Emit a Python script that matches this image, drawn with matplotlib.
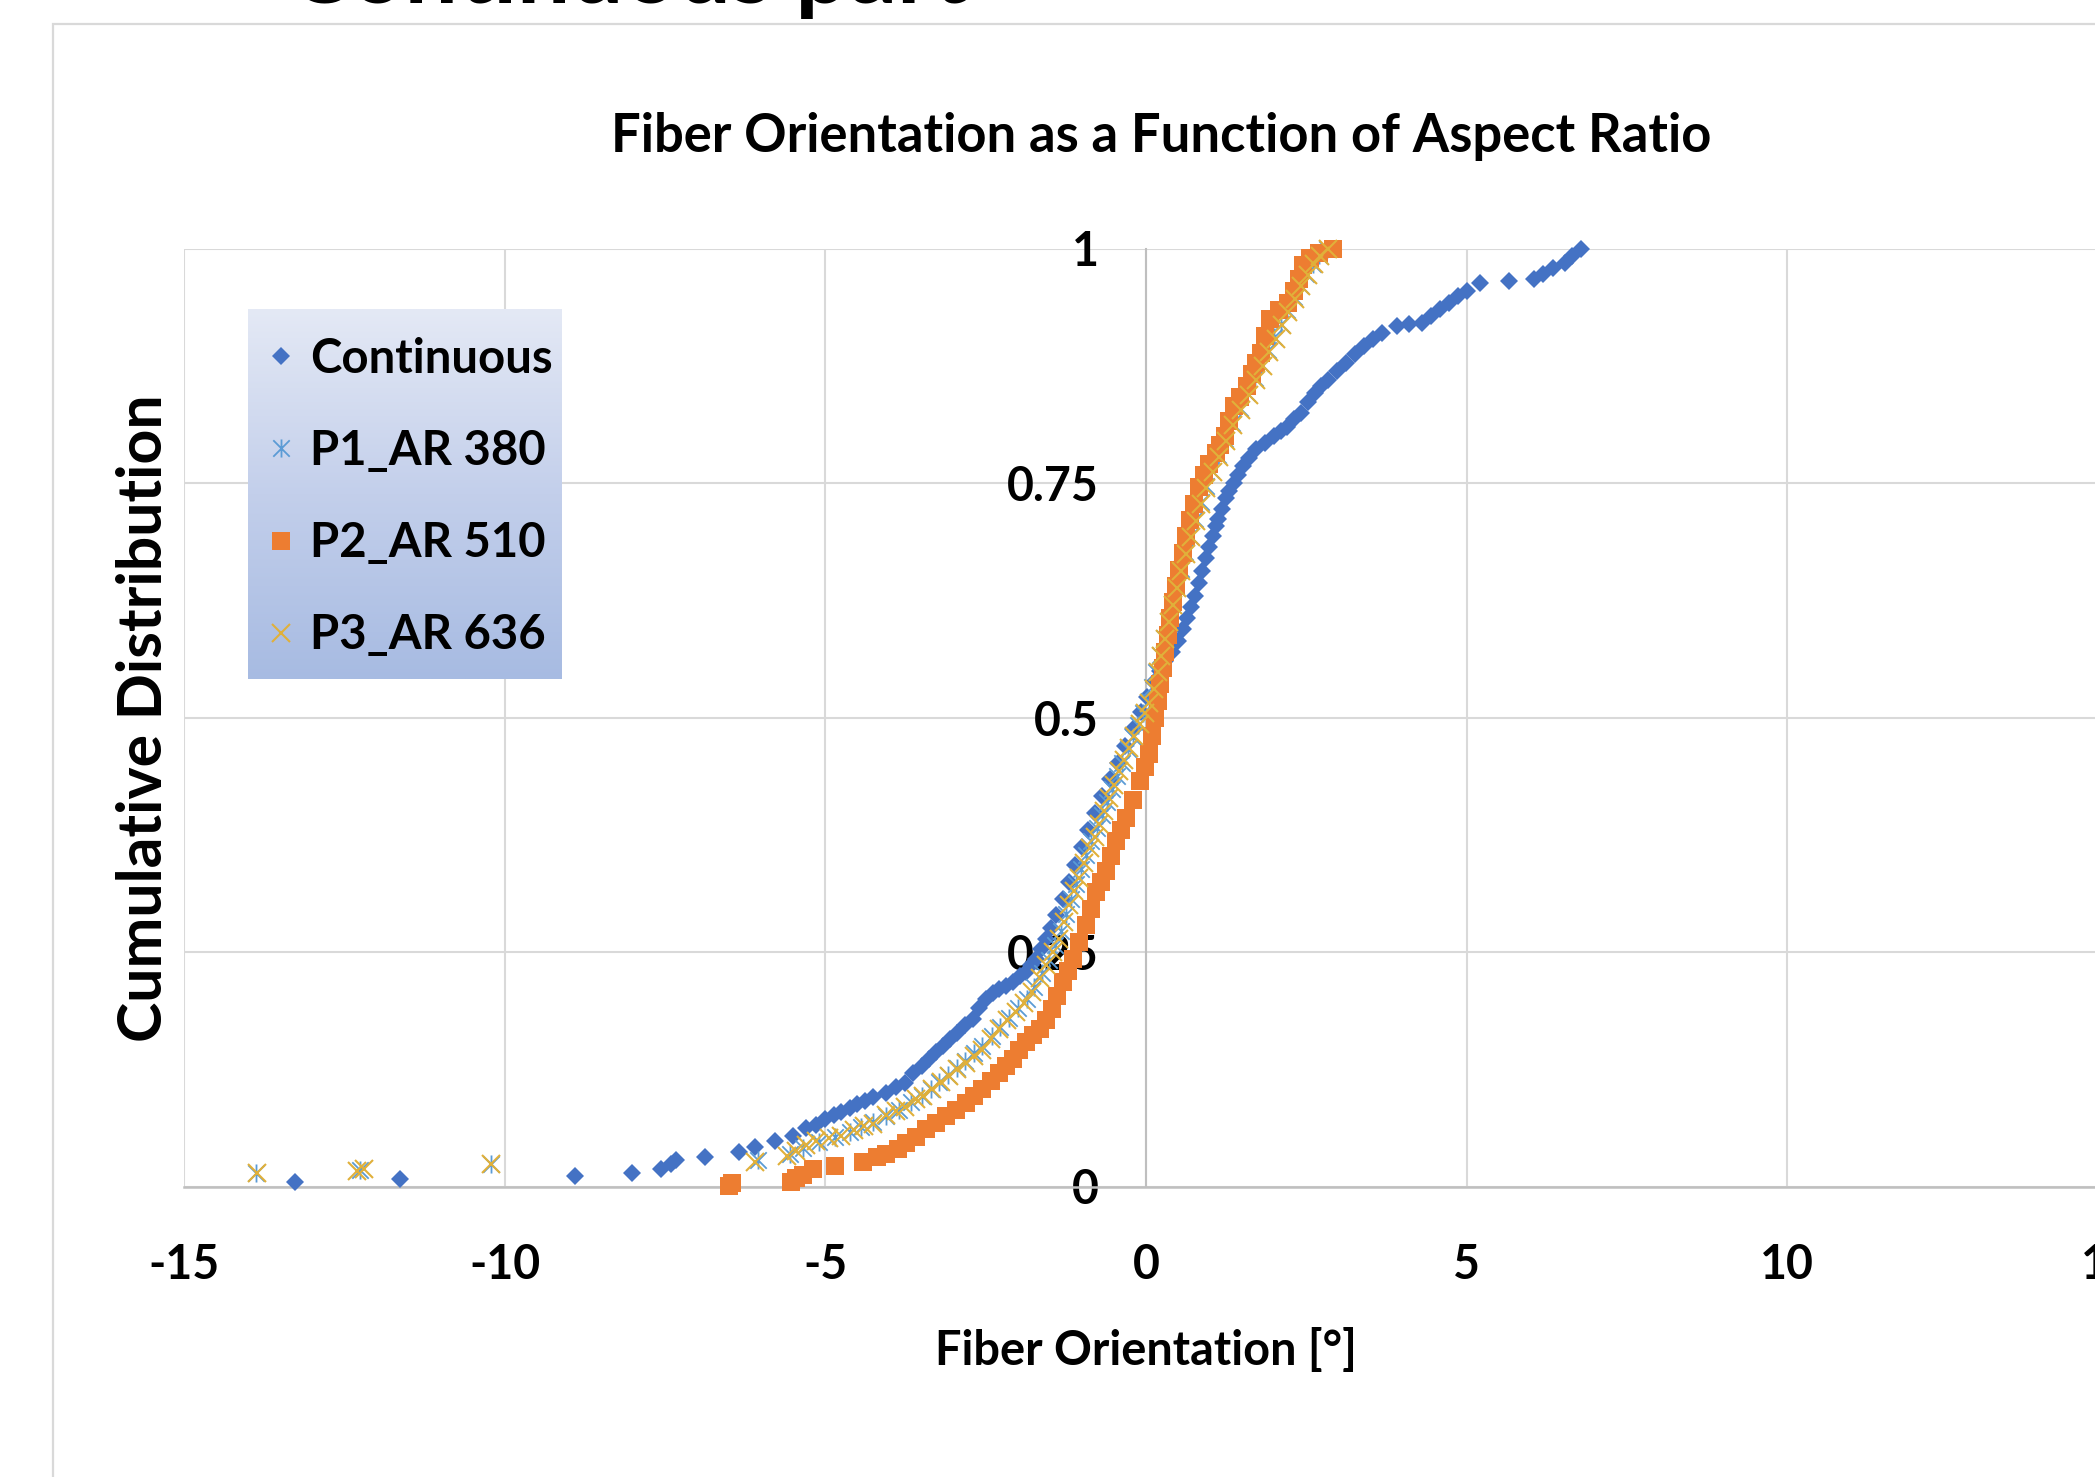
import matplotlib
matplotlib.use('Agg')
import matplotlib.pyplot as plt
import numpy as np
from matplotlib.path import Path
from matplotlib.patches import Rectangle
from matplotlib.colors import LinearSegmentedColormap

W, H, DPI = 2095, 1477, 100
plt.rcParams['font.family'] = ['Lato', 'DejaVu Sans']
plt.rcParams['font.weight'] = 'bold'
plt.rcParams['axes.unicode_minus'] = False

# ---------------- data ----------------
title = "Fiber Orientation as a Function of Aspect Ratio"
xlabel = "Fiber Orientation [°]"
ylabel = "Cumulative Distribution"
slide_title = "Continuous part"
series_names = ["Continuous", "P1_AR 380", "P2_AR 510", "P3_AR 636"]
xticks = [-15, -10, -5, 0, 5, 10, 15]
xtick_labels = ["-15", "-10", "-5", "0", "5", "10", "15"]
yticks = [0, 0.25, 0.5, 0.75, 1]
ytick_labels = ["0", "0.25", "0.5", "0.75", "1"]

cont_x = [-13.27, -11.63, -8.91, -8.02, -7.57, -7.40, -7.33, -6.88, -6.34, -6.09, -5.79, -5.50,
          -5.30, -5.15, -5.00, -4.87, -4.75, -4.62, -4.50, -4.38, -4.26, -4.06, -3.90, -3.76,
          -3.64, -3.50, -3.38, -3.28, -3.17, -3.05, -2.94, -2.82, -2.70, -2.60, -2.49, -2.39,
          -2.29, -2.18, -2.08, -1.97, -1.87, -1.80, -1.72, -1.64, -1.56, -1.48, -1.40, -1.30,
          -1.20, -1.10, -1.00, -0.90, -0.80, -0.68, -0.56, -0.44, -0.32, -0.20, -0.08, 0.02,
          0.12, 0.22, 0.30, 0.40, 0.50, 0.58, 0.64, 0.70, 0.76, 0.82, 0.88, 0.94,
          0.99, 1.04, 1.09, 1.13, 1.18, 1.24, 1.30, 1.37, 1.44, 1.51, 1.61, 1.72,
          1.86, 2.00, 2.10, 2.20, 2.31, 2.42, 2.52, 2.63, 2.73, 2.84, 2.98, 3.12,
          3.26, 3.40, 3.54, 3.68, 3.92, 4.10, 4.30, 4.44, 4.58, 4.72, 4.86, 5.00,
          5.21, 5.66, 6.05, 6.19, 6.35, 6.53, 6.65, 6.78]
cont_y = [0.005, 0.008, 0.011, 0.014, 0.019, 0.024, 0.028, 0.031, 0.037, 0.042, 0.049, 0.054,
          0.062, 0.066, 0.072, 0.076, 0.079, 0.084, 0.088, 0.091, 0.095, 0.100, 0.106, 0.110,
          0.121, 0.128, 0.136, 0.143, 0.150, 0.157, 0.164, 0.172, 0.179, 0.190, 0.200, 0.206,
          0.211, 0.214, 0.218, 0.224, 0.229, 0.236, 0.243, 0.253, 0.264, 0.276, 0.289, 0.307,
          0.325, 0.343, 0.362, 0.380, 0.398, 0.416, 0.434, 0.452, 0.470, 0.488, 0.506, 0.522,
          0.538, 0.550, 0.560, 0.570, 0.582, 0.594, 0.606, 0.618, 0.630, 0.643, 0.656, 0.670,
          0.682, 0.694, 0.704, 0.712, 0.722, 0.734, 0.742, 0.750, 0.759, 0.768, 0.777, 0.786,
          0.793, 0.800, 0.805, 0.810, 0.818, 0.825, 0.836, 0.846, 0.853, 0.860, 0.869, 0.878,
          0.887, 0.896, 0.903, 0.910, 0.917, 0.919, 0.921, 0.928, 0.935, 0.942, 0.949, 0.955,
          0.963, 0.965, 0.967, 0.973, 0.979, 0.985, 0.992, 1.000]

p1_x = [-13.88, -12.26, -10.22, -6.05, -5.55, -5.35, -5.10, -4.85, -4.62, -4.45, -4.25, -4.05,
        -3.85, -3.66, -3.50, -3.36, -3.22, -3.08, -2.95, -2.82, -2.68, -2.55, -2.40, -2.27,
        -2.13, -2.00, -1.86, -1.74, -1.62, -1.52, -1.42, -1.33, -1.25, -1.17, -1.09, -1.01,
        -0.93, -0.85, -0.77, -0.69, -0.61, -0.53, -0.45, -0.37, -0.28, -0.20, -0.12, -0.04,
        0.04, 0.10, 0.16, 0.22, 0.28, 0.34, 0.40, 0.47, 0.54, 0.61, 0.69, 0.77,
        0.85, 0.93, 1.02, 1.12, 1.23, 1.34, 1.46, 1.58, 1.70, 1.80, 1.90, 2.00,
        2.10, 2.20, 2.30, 2.40, 2.50, 2.60, 2.70, 2.82]
p1_y = [0.014, 0.018, 0.024, 0.028, 0.035, 0.041, 0.047, 0.053, 0.058, 0.063, 0.069, 0.075,
        0.082, 0.090, 0.097, 0.104, 0.111, 0.119, 0.126, 0.134, 0.142, 0.150, 0.160, 0.170,
        0.180, 0.190, 0.200, 0.213, 0.228, 0.242, 0.257, 0.272, 0.290, 0.306, 0.322, 0.338,
        0.353, 0.368, 0.382, 0.396, 0.410, 0.424, 0.438, 0.452, 0.466, 0.479, 0.492, 0.505,
        0.518, 0.532, 0.549, 0.567, 0.585, 0.603, 0.621, 0.640, 0.658, 0.676, 0.694, 0.712,
        0.730, 0.747, 0.764, 0.780, 0.797, 0.814, 0.830, 0.846, 0.862, 0.877, 0.892, 0.906,
        0.920, 0.934, 0.948, 0.961, 0.973, 0.984, 0.993, 1.000]

p2_x = [-6.50, -6.45, -5.54, -5.45, -5.35, -5.20, -4.85, -4.41, -4.20, -4.06, -3.86, -3.74,
        -3.58, -3.43, -3.28, -3.12, -2.96, -2.81, -2.68, -2.55, -2.42, -2.29, -2.18, -2.08,
        -1.98, -1.87, -1.76, -1.66, -1.56, -1.46, -1.38, -1.30, -1.22, -1.14, -1.04, -0.94,
        -0.86, -0.78, -0.70, -0.62, -0.55, -0.47, -0.39, -0.31, -0.20, -0.10, -0.02, 0.05,
        0.10, 0.14, 0.18, 0.22, 0.26, 0.30, 0.34, 0.38, 0.42, 0.46, 0.52, 0.58,
        0.63, 0.68, 0.75, 0.82, 0.90, 0.98, 1.09, 1.16, 1.23, 1.30, 1.37, 1.47,
        1.58, 1.65, 1.72, 1.79, 1.86, 1.93, 2.07, 2.21, 2.30, 2.38, 2.45, 2.55,
        2.70, 2.91]
p2_y = [0.001, 0.004, 0.005, 0.009, 0.012, 0.019, 0.022, 0.026, 0.031, 0.035, 0.040, 0.046,
        0.053, 0.061, 0.068, 0.075, 0.082, 0.089, 0.096, 0.104, 0.112, 0.121, 0.128, 0.136,
        0.145, 0.154, 0.161, 0.168, 0.178, 0.189, 0.203, 0.218, 0.230, 0.243, 0.261, 0.279,
        0.296, 0.314, 0.325, 0.336, 0.352, 0.368, 0.380, 0.393, 0.412, 0.432, 0.447, 0.461,
        0.480, 0.500, 0.518, 0.536, 0.553, 0.570, 0.588, 0.606, 0.623, 0.640, 0.657, 0.675,
        0.693, 0.711, 0.728, 0.746, 0.758, 0.770, 0.782, 0.791, 0.800, 0.816, 0.832, 0.842,
        0.853, 0.866, 0.878, 0.889, 0.907, 0.925, 0.934, 0.942, 0.955, 0.968, 0.982, 0.990,
        0.995, 1.000]

p3_x = [-13.86, -12.30, -12.20, -10.22, -6.09, -5.60, -5.45, -5.30, -5.15, -4.95, -4.75, -4.55,
        -4.40, -4.26, -4.06, -3.90, -3.76, -3.59, -3.47, -3.33, -3.20, -3.07, -2.94, -2.81,
        -2.68, -2.55, -2.42, -2.29, -2.16, -2.03, -1.90, -1.77, -1.66, -1.56, -1.45, -1.35,
        -1.28, -1.20, -1.12, -1.04, -0.96, -0.88, -0.80, -0.73, -0.65, -0.57, -0.50, -0.42,
        -0.34, -0.26, -0.18, -0.10, -0.02, 0.05, 0.12, 0.18, 0.24, 0.30, 0.36, 0.42,
        0.48, 0.55, 0.62, 0.70, 0.78, 0.86, 0.94, 1.04, 1.14, 1.25, 1.36, 1.48,
        1.60, 1.72, 1.82, 1.92, 2.02, 2.12, 2.22, 2.32, 2.42, 2.52, 2.62, 2.72, 2.84]
p3_y = [0.014, 0.017, 0.019, 0.024, 0.026, 0.033, 0.038, 0.044, 0.049, 0.052, 0.054, 0.060,
        0.064, 0.067, 0.076, 0.080, 0.085, 0.093, 0.097, 0.104, 0.111, 0.118, 0.125, 0.132,
        0.139, 0.146, 0.157, 0.168, 0.177, 0.186, 0.196, 0.207, 0.222, 0.236, 0.250, 0.264,
        0.282, 0.300, 0.315, 0.329, 0.345, 0.361, 0.373, 0.386, 0.400, 0.414, 0.428, 0.443,
        0.455, 0.468, 0.480, 0.493, 0.505, 0.515, 0.530, 0.548, 0.566, 0.584, 0.602, 0.620,
        0.638, 0.656, 0.674, 0.692, 0.710, 0.728, 0.745, 0.762, 0.778, 0.795, 0.812, 0.828,
        0.844, 0.860, 0.875, 0.890, 0.904, 0.918, 0.932, 0.946, 0.960, 0.972, 0.983, 0.992, 1.000]

colors = ["#4472C4", "#5B9BD5", "#ED7D31", "#E0B03A"]

# ---------------- figure ----------------
fig = plt.figure(figsize=(W / DPI, H / DPI), dpi=DPI)
fig.patch.set_facecolor("white")

# chart-area frame (extends beyond the crop)
fig.patches.append(Rectangle((53 / W, -0.1), 1.2, 1 - 24 / H + 0.1, transform=fig.transFigure,
                             fill=False, edgecolor="#d9d9d9", linewidth=1.6, zorder=0))

# slide title, mostly cut off at the top
st = fig.text(628 / W, 1 - 3 / H, slide_title, ha="center", va="baseline",
              fontsize=60, fontweight="bold", color="black")

ax = fig.add_axes([184 / W, 1 - 1186.5 / H, 1924 / W, 938 / H])
ax.set_xlim(-15, 15)
ax.set_ylim(0, 1)
ax.set_facecolor("none")

star = Path([(-0.5, -0.5), (0.5, 0.5), (-0.5, 0.5), (0.5, -0.5), (0, -0.55), (0, 0.55)],
            [Path.MOVETO, Path.LINETO] * 3)

h0, = ax.plot(cont_x, cont_y, ls="none", marker="D", ms=9.4, mfc=colors[0], mec=colors[0],
              mew=0, clip_on=False, zorder=3, label=series_names[0])
h1, = ax.plot(p1_x, p1_y, ls="none", marker=star, ms=13, mfc="none", mec=colors[1],
              mew=1.3, clip_on=False, zorder=4, label=series_names[1])
h2, = ax.plot(p2_x, p2_y, ls="none", marker="s", ms=12.5, mfc=colors[2], mec=colors[2],
              mew=0, clip_on=False, zorder=5, label=series_names[2])
h3, = ax.plot(p3_x, p3_y, ls="none", marker="x", ms=13, mec=colors[3],
              mew=1.5, clip_on=False, zorder=6, label=series_names[3])

ax.set_xticks(xticks)
ax.set_xticklabels(xtick_labels)
ax.set_yticks(yticks)
ax.set_yticklabels(ytick_labels)
ax.grid(True, color="#d9d9d9", linewidth=1.5, zorder=0)
ax.set_axisbelow(True)
for s in ["top", "right"]:
    ax.spines[s].set_visible(False)
ax.spines["left"].set_position(("data", 0))
ax.spines["left"].set_color("#bfbfbf")
ax.spines["left"].set_linewidth(1.5)
ax.spines["bottom"].set_color("#bfbfbf")
ax.spines["bottom"].set_linewidth(1.8)
ax.tick_params(axis="both", length=0, labelsize=33.5, colors="black")
ax.tick_params(axis="x", pad=41)
ax.tick_params(axis="y", pad=34)
for lbl in ax.get_xticklabels() + ax.get_yticklabels():
    lbl.set_fontweight("bold")

ax.set_title(title, x=(1161 - 184) / 1924, y=(1186.5 - 145) / 938, va="center",
             fontsize=32, fontweight="bold")
ax.set_xlabel(xlabel, fontsize=32, fontweight="bold", va="center")
ax.xaxis.set_label_coords((1146 - 184) / 1924, (1186.5 - 1351) / 938)
ax.set_ylabel(ylabel, fontsize=40, fontweight="bold", va="center")
ax.yaxis.set_label_coords((144 - 184) / 1924, (1186.5 - 718) / 938)

# legend with gradient background
legax = fig.add_axes([248 / W, 1 - 679 / H, 314 / W, 370 / H], zorder=5)
cmap = LinearSegmentedColormap.from_list("lg", ["#e4e9f5", "#c3cfeb", "#a7bbe2"])
grad = np.linspace(0, 1, 256).reshape(-1, 1)
legax.imshow(grad, aspect="auto", cmap=cmap, extent=[0, 1, 0, 1], origin="upper")
legax.set_xlim(0, 1)
legax.set_ylim(0, 1)
legax.axis("off")
leg = legax.legend([h0, h1, h2, h3], series_names, loc="upper left", frameon=False,
                   bbox_to_anchor=(0, 1 - 8 / 370),
                   handlelength=0.55, handletextpad=0.35, labelspacing=1.02,
                   borderaxespad=0.12, borderpad=0.3, prop={"weight": "bold", "size": 34})

# fit text widths to the reference
fig.canvas.draw()
r = fig.canvas.get_renderer()
def fit(t, target, horizontal=True):
    bb = t.get_window_extent(r)
    cur = bb.width if horizontal else bb.height
    t.set_fontsize(t.get_fontsize() * target / cur)

fit(ax.title, 1101)
fit(ax.xaxis.label, 422)
fit(ax.yaxis.label, 648, horizontal=False)
fit(st, 680)

fig.savefig("out.png", dpi=DPI, facecolor="white")
